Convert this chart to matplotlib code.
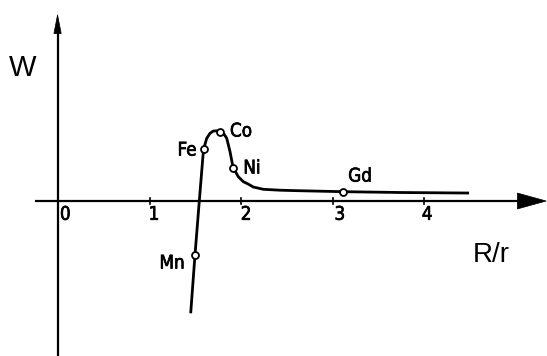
import matplotlib
matplotlib.use("Agg")
import matplotlib.pyplot as plt
from matplotlib.patches import Polygon
import matplotlib.patheffects as pe

# Bethe-Slater curve
curve_x = [1.450, 1.497, 1.544, 1.590, 1.625, 1.661, 1.697, 1.738, 1.774, 1.814,
           1.844, 1.880, 1.913, 1.970, 2.025, 2.077, 2.134, 2.244, 2.426, 2.609,
           3.111, 3.738, 4.492]
curve_y = [-1.227, -0.590, 0.000, 0.563, 0.685, 0.740, 0.765, 0.767, 0.757, 0.732,
           0.685, 0.539, 0.366, 0.266, 0.211, 0.186, 0.153, 0.128, 0.118, 0.113,
           0.102, 0.093, 0.087]

elements = ["Mn", "Fe", "Co", "Ni", "Gd"]
elem_x = [1.497, 1.590, 1.774, 1.913, 3.111]
elem_y = [-0.590, 0.563, 0.757, 0.366, 0.102]
label_x = [1.246, 1.410, 2.000, 2.120, 3.301]
label_y = [-0.678, 0.557, 0.765, 0.361, 0.273]

ticks = [0, 1, 2, 3, 4]
tick_labels = ["0", "1", "2", "3", "4"]
tick_label_x = [0.080, 1.049, 2.055, 3.080, 4.035]

fig = plt.figure(figsize=(5.47, 3.56), dpi=100)
ax = fig.add_axes([0, 0, 1, 1])
ax.set_xlim(-0.634, 5.344)
ax.set_ylim(-1.694, 2.197)
ax.axis("off")

label_font = dict(family=["DejaVu Sans"], fontstretch="condensed", fontsize=13.5,
                  color="black",
                  path_effects=[pe.withStroke(linewidth=0.5, foreground="black")])

lw_axis = 1.6
# horizontal axis
ax.plot([-0.25, 5.03], [0, 0], color="black", lw=lw_axis, solid_capstyle="butt")
ax.add_patch(Polygon([[5.02, 0.087], [5.335, 0.0], [5.02, -0.087]], closed=True,
                     facecolor="black", edgecolor="black", lw=0.5))
# vertical axis
ax.plot([-0.005, -0.005], [-1.75, 1.85], color="black", lw=lw_axis, solid_capstyle="butt")
ax.add_patch(Polygon([[-0.045, 1.83], [-0.005, 2.035], [0.035, 1.83]], closed=True,
                     facecolor="black", edgecolor="black", lw=0.5))

# ticks
for t, lx, lab in zip(ticks, tick_label_x, tick_labels):
    if t != 0:
        ax.plot([t, t], [-0.035, 0.03], color="black", lw=1.2)
    ax.text(lx, -0.145, lab, ha="center", va="center", **label_font)

# curve
ax.plot(curve_x, curve_y, color="black", lw=2.0, solid_capstyle="butt",
        solid_joinstyle="round", zorder=3)
ax.plot(elem_x, elem_y, linestyle="none", marker="o", markersize=5,
        markerfacecolor="white", markeredgecolor="black", markeredgewidth=1.3, zorder=4)
for name, lx, ly in zip(elements, label_x, label_y):
    ax.text(lx, ly, name, ha="center", va="center", **label_font)

# axis titles
ax.text(-0.388, 1.459, "W", ha="center", va="center", fontsize=21,
        family=["Liberation Sans", "DejaVu Sans"])
ax.text(4.732, -0.590, "R/r", ha="center", va="center", fontsize=20,
        family=["Liberation Sans", "DejaVu Sans"])

fig.savefig("out.png", dpi=100)
